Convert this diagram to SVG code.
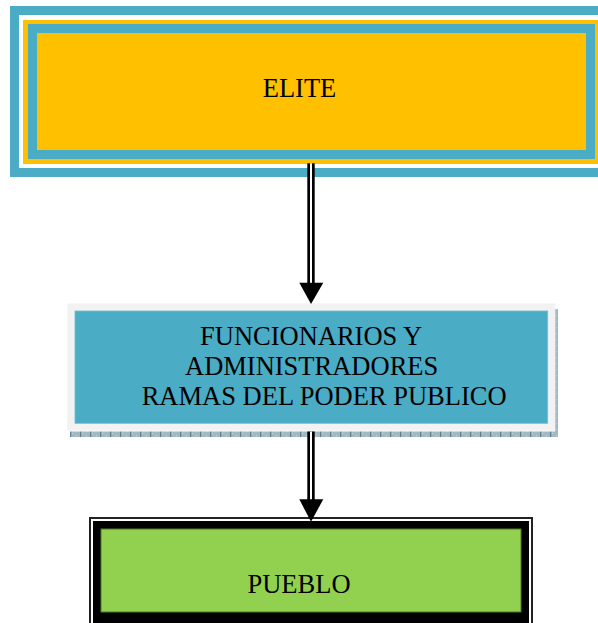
<svg xmlns="http://www.w3.org/2000/svg" width="598" height="623" viewBox="0 0 598 623">
<style>
.t{font-family:"Liberation Serif","Times New Roman",serif;font-size:26.5px;fill:#000}
.shaft{stroke:#000;stroke-width:7.4;fill:none}
.gap{stroke:#fff;stroke-width:2;fill:none}
</style>
<defs>
<pattern id="sh" width="10" height="6" patternUnits="userSpaceOnUse">
<rect width="10" height="6" fill="#a3b9c2"/>
<rect x="0" y="0" width="1.2" height="6" fill="#5d7f8c"/>
<rect x="2" y="1" width="1" height="1" fill="#c6d4d9"/>
<rect x="6" y="3" width="1" height="1" fill="#c6d4d9"/>
</pattern>
</defs>
<rect width="598" height="623" fill="#fff"/>
<g id="elite">
<rect x="14.5" y="10.5" width="600" height="162" fill="#fff" stroke="#4bacc6" stroke-width="9"/>
<rect x="23" y="20" width="580" height="144" fill="#ffc000"/>
<rect x="32.5" y="28.5" width="558" height="126" fill="#ffc000" stroke="#4bacc6" stroke-width="9"/>
<text class="t" x="299.5" y="96.7" text-anchor="middle">ELITE</text>
</g>
<g id="funcionarios">
<rect x="70" y="431.5" width="488" height="5.5" fill="url(#sh)"/>
<rect x="555" y="309" width="3" height="128" fill="url(#sh)"/>
<rect x="67.3" y="303.3" width="488" height="127.4" fill="#f2f2f2"/>
<rect x="75" y="311" width="472.7" height="112.3" fill="#4bacc6" stroke="#6cc0d6" stroke-width="0.8"/>
<text class="t" x="200" y="345">FUNCIONARIOS Y</text>
<text class="t" x="185" y="375">ADMINISTRADORES</text>
<text class="t" x="141.7" y="405">RAMAS DEL PODER PUBLICO</text>
</g>
<g id="pueblo">
<rect x="90" y="518" width="442" height="120" fill="#fff" stroke="#222" stroke-width="2"/>
<rect x="97" y="525" width="428" height="110" fill="#000" stroke="#000" stroke-width="8"/>
<rect x="101" y="529" width="420" height="83" fill="#92d050" stroke="#4f7a28" stroke-width="1"/>
<text class="t" x="299" y="593.3" text-anchor="middle">PUEBLO</text>
</g>
<g id="connectors">
<line class="shaft" x1="311" y1="163.3" x2="311" y2="284"/>
<line class="gap" x1="311" y1="163.3" x2="311" y2="283"/>
<polygon points="299.3,282.7 323.3,282.7 311,304" fill="#000"/>
<line class="shaft" x1="311" y1="431.5" x2="311" y2="501"/>
<line class="gap" x1="311" y1="431.5" x2="311" y2="500"/>
<polygon points="299.3,499.3 323.3,499.3 311,521.7" fill="#000"/>
</g>
</svg>
